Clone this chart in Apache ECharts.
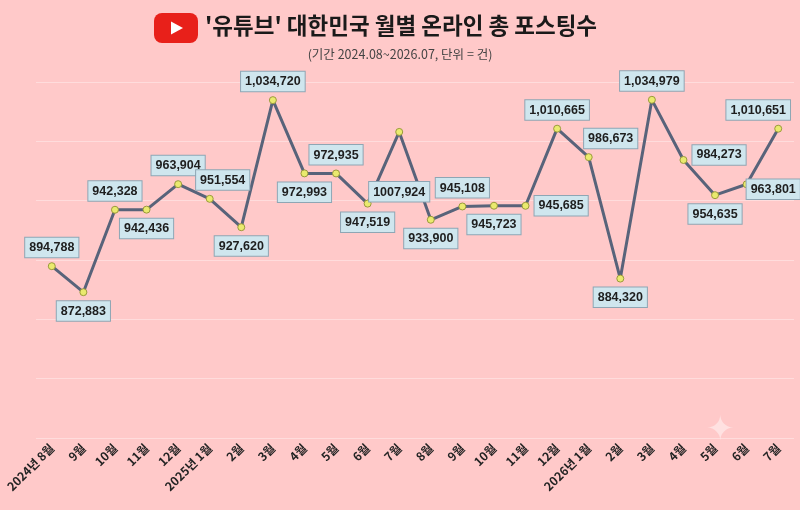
<!DOCTYPE html>
<html>
<head>
<meta charset="utf-8">
<script src="https://cdn.jsdelivr.net/npm/echarts@6/dist/echarts.min.js"></script>
<style>
  html, body { margin: 0; padding: 0; background: #ffc9c9; }
  #chart { width: 800px; height: 510px; }
</style>
</head>
<body>
<div id="chart"></div>
<script>
// months, Aug 2024 .. Jul 2026
const months = [
  '2024년 8월', '9월', '10월', '11월', '12월', '2025년 1월', '2월', '3월', '4월', '5월', '6월', '7월',
  '8월', '9월', '10월', '11월', '12월', '2026년 1월', '2월', '3월', '4월', '5월', '6월', '7월'
];

const postings = [
  894788, 872883, 942328, 942436, 963904, 951554, 927620, 1034720, 972993, 972935, 947519, 1007924,
  933900, 945108, 945723, 945685, 1010665, 986673, 884320, 1034979, 984273, 954635, 963801, 1010651
];

// label text as printed on the original (one of them has no thousands comma)
const labelText = [
  '894,788', '872,883', '942,328', '942,436', '963,904', '951,554', '927,620', '1,034,720', '972,993', '972,935', '947,519', '1007,924',
  '933,900', '945,108', '945,723', '945,685', '1,010,665', '986,673', '884,320', '1,034,979', '984,273', '954,635', '963,801', '1,010,651'
];

// where each value box sits relative to its point
const labelPlace = [
  ['top'], ['bottom'], ['top'], ['bottom'], ['top'], ['top', [13, 0]], ['bottom'], ['top'],
  ['bottom'], ['top'], ['bottom'], ['bottom', [0, 41]],
  ['bottom'], ['top'], ['bottom'], ['right'], ['top'], ['top', [22, 0]], ['bottom'], ['top'],
  ['right', [0, -5]], ['bottom'], ['right', [-9, 5]], ['top', [-20, 0]]
];

const chart = echarts.init(document.getElementById('chart'));

const seriesData = postings.map((v, i) => ({
  value: v,
  label: {
    position: labelPlace[i][0],
    offset: labelPlace[i][1] || [0, 0],
    formatter: labelText[i]
  }
}));

chart.setOption({
  backgroundColor: '#ffc9c9',
  animation: false,
  textStyle: { fontFamily: 'Liberation Sans, Noto Sans CJK KR, sans-serif' },
  graphic: [
    // youtube logo
    { type: 'rect', left: 154, top: 13, shape: { width: 44, height: 30, r: 8 }, style: { fill: '#e8201a' } },
    { type: 'polygon', shape: { points: [[171, 21.5], [171, 34.5], [183, 28]] }, style: { fill: '#ffffff' } },
    {
      type: 'text', left: 205, top: 14,
      style: {
        text: "'유튜브' 대한민국 월별 온라인 총 포스팅수",
        fill: '#1a1a1a',
        font: 'bold 22.5px "Noto Sans CJK KR", sans-serif'
      }
    },
    {
      type: 'text', left: 'center', top: 48,
      style: {
        text: '(기간 2024.08~2026.07, 단위 = 건)',
        fill: '#444',
        font: '12.5px "Noto Sans CJK KR", sans-serif'
      }
    },
    {
      type: 'text', left: 706, top: 414,
      style: { text: '✦', fill: 'rgba(255,255,255,0.45)', font: '34px "DejaVu Sans"' }
    }
  ],
  grid: { left: 36, right: 6, top: 82, bottom: 72 },
  xAxis: {
    type: 'category',
    data: months,
    boundaryGap: true,
    axisLine: { show: false },
    axisTick: { show: false },
    axisLabel: {
      rotate: 45,
      interval: 0,
      margin: 8,
      color: '#242424',
      fontWeight: 'bold',
      fontSize: 12,
      fontFamily: 'Noto Sans CJK KR'
    }
  },
  yAxis: {
    type: 'value',
    min: 750000,
    max: 1050000,
    interval: 50000,
    axisLabel: { show: false },
    axisLine: { show: false },
    axisTick: { show: false },
    splitLine: { lineStyle: { color: 'rgba(255,255,255,0.35)', width: 1 } }
  },
  series: [{
    type: 'line',
    data: seriesData,
    symbol: 'circle',
    symbolSize: 7,
    lineStyle: { color: '#58637a', width: 3 },
    itemStyle: { color: '#eaea6e', borderColor: '#9a9a3c', borderWidth: 1 },
    label: {
      show: true,
      distance: 5,
      color: '#1e1e1e',
      fontWeight: 'bold',
      fontSize: 12.5,
      backgroundColor: '#cfe6ee',
      borderColor: '#8ea6b4',
      borderWidth: 1,
      padding: [4, 4, 3, 4]
    },
    z: 3
  }]
});
</script>
</body>
</html>
